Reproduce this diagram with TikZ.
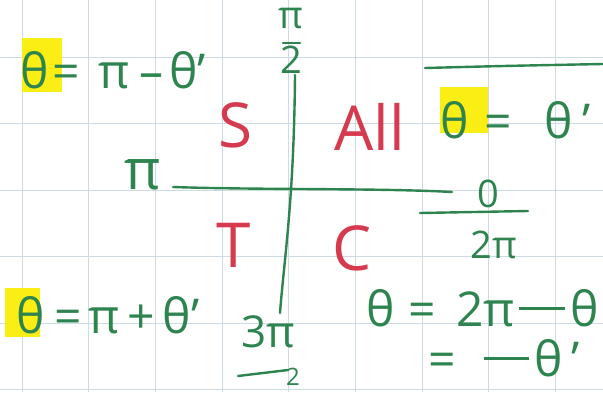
\documentclass[tikz,border=0pt]{standalone}
\usepackage{fontspec}
\setmainfont{Open Sans}
\definecolor{ink}{RGB}{45,132,78}
\definecolor{redink}{RGB}{214,58,78}
\definecolor{gridblue}{RGB}{205,220,228}
\definecolor{marker}{RGB}{250,238,20}
\tikzstyle{every node}=[inner sep=0pt, text=ink]
\tikzstyle{eq}=[anchor=base west, font=\fontsize{48}{52}\selectfont]
\tikzstyle{lbl}=[font=\fontsize{38}{44}\selectfont]
\tikzstyle{quadlbl}=[text=redink, font=\fontsize{62}{70}\selectfont]
\tikzstyle{hl}=[fill=marker]
\tikzstyle{pen}=[draw=ink, line width=2.4pt, line cap=round]
\tikzstyle{gridline}=[draw=gridblue, line width=1pt]
\newcommand{\longbar}[1]{\rule[16pt]{#1}{2.6pt}}

\begin{document}
\begin{tikzpicture}[x=1pt,y=-1pt]
    \clip (0,0) rectangle (603,392);
    \fill[white] (0,0) rectangle (603,392);
    % paper grid
    \foreach \gx in {22,88.7,...,600} \draw[gridline] (\gx,0) -- (\gx,392);
    \foreach \gy in {57,123.5,...,392} \draw[gridline] (0,\gy) -- (603,\gy);
    % marker highlights
    \node[hl, minimum width=40pt, minimum height=54pt] (hlS) at (42,65) {};
    \node[hl, minimum width=48pt, minimum height=46pt] (hlA) at (464,110) {};
    \node[hl, minimum width=35pt, minimum height=49pt] (hlT) at (22,312) {};
    % axes
    \coordinate (top) at (295,75);
    \coordinate (bot) at (280,313);
    \coordinate (lft) at (173,187);
    \coordinate (rgt) at (452,192);
    \draw[pen] (top) .. controls (294,200) and (284,260) .. (bot);
    \draw[pen] (lft) .. controls (260,190) and (380,188) .. (rgt);
    % axis labels
    \node[lbl] (halfpi) at (291,19) {π};
    \draw[pen] (283,43) -- (300,43);
    \node[lbl] (halftwo) at (291,60) {2};
    \node[lbl, font=\fontsize{56}{60}\selectfont] (leftpi) at (143,175) {π};
    \node[lbl] (zero) at (488,194) {0};
    \draw[pen] (420,213) -- (528,211);
    \node[lbl] (twopi) at (494,245) {2π};
    \node[lbl, font=\fontsize{44}{50}\selectfont] (threepi) at (268,332) {3π};
    \draw[pen] (238,376) -- (288,370);
    \node[lbl, font=\fontsize{24}{28}\selectfont] (threetwo) at (293,377) {2};
    % quadrant letters
    \node[quadlbl] (S) at (236,125) {S};
    \node[quadlbl] (All) at (370,127) {All};
    \node[quadlbl] (T) at (234,245) {T};
    \node[quadlbl] (C) at (352,248) {C};
    % angle rules
    \node[eq] (eqS) at (20,88) {θ\hspace{4pt}=\hspace{18pt}π\hspace{10pt}–\hspace{6pt}θ’};
    \draw[pen] (425,68) .. controls (500,66) .. (603,64);
    \node[eq] (eqA) at (440,138) {θ\hspace{16pt}=\hspace{32pt}θ\hspace{10pt}’};
    \node[eq] (eqT) at (16,333) {θ\hspace{10pt}=\hspace{6pt}π\hspace{8pt}+\hspace{8pt}θ’};
    \node[eq] (eqC) at (366,326) {θ\hspace{14pt}=\hspace{20pt}2π\hspace{4pt}\longbar{46pt}\hspace{6pt}θ};
    \node[eq] (eqCtwo) at (428,376) {=\hspace{28pt}\longbar{45pt}\hspace{6pt}θ\hspace{8pt}’};
\end{tikzpicture}
\end{document}
